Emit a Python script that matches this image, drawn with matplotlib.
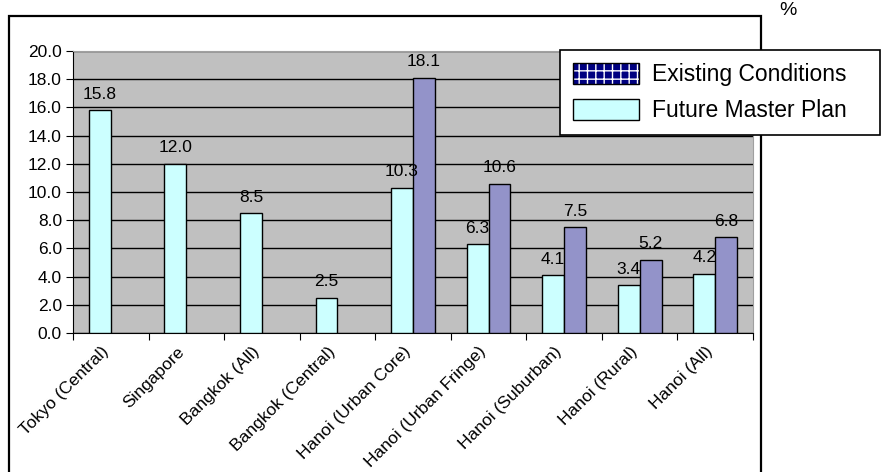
import numpy as np
import matplotlib.pyplot as plt
from matplotlib.patches import Patch, Rectangle
from matplotlib.transforms import ScaledTranslation

plt.rcParams['font.family'] = ['Liberation Sans', 'DejaVu Sans']

# 各地点
cities = ['Tokyo (Central)', 'Singapore', 'Bangkok (All)', 'Bangkok (Central)',
          'Hanoi (Urban Core)', 'Hanoi (Urban Fringe)', 'Hanoi (Suburban)',
          'Hanoi (Rural)', 'Hanoi (All)']
# 将来計画値 / 現況値 (%)
future_plan = [15.8, 12.0, 8.5, 2.5, 10.3, 6.3, 4.1, 3.4, 4.2]
existing = [None, None, None, None, 18.1, 10.6, 7.5, 5.2, 6.8]

future_color = '#CCFFFF'
existing_color = '#9393C9'

fig = plt.figure(figsize=(8.82, 4.72), dpi=100)
ax = fig.add_axes([0.0828, 0.2945, 0.7709, 0.5975])
ax.set_facecolor('#C0C0C0')

x = np.arange(len(cities))
w = 0.29

ax.bar(x - w / 2, future_plan, w, color=future_color, edgecolor='black', linewidth=1, zorder=3)
ex_idx = [i for i, v in enumerate(existing) if v is not None]
ex_val = [existing[i] for i in ex_idx]
ax.bar(np.array(ex_idx) + w / 2, ex_val, w, color=existing_color, edgecolor='black', linewidth=1, zorder=3)

# 数値ラベル
for i, v in enumerate(future_plan):
    ax.text(i - w / 2, v + 0.6, '%.1f' % v, ha='center', va='bottom', fontsize=12.5)
for i, v in zip(ex_idx, ex_val):
    ax.text(i + w / 2, v + 0.6, '%.1f' % v, ha='center', va='bottom', fontsize=12.5)

ax.set_xlim(-0.5, len(cities) - 0.5)
ax.set_ylim(0, 20)
ax.set_yticks(np.arange(0, 20.1, 2))
ax.set_yticklabels(['%.1f' % t for t in np.arange(0, 20.1, 2)], fontsize=12.5)
ax.yaxis.grid(True, color='black', linewidth=1)
ax.set_axisbelow(True)

# 目盛りは区切り位置、ラベルは中央
ax.set_xticks(np.arange(-0.5, len(cities), 1))
ax.set_xticklabels([])
ax.set_xticks(x, minor=True)
ax.set_xticklabels(cities, minor=True, rotation=45, ha='right', rotation_mode='anchor', fontsize=12.5)
ax.tick_params(axis='x', which='minor', length=0, pad=8)
ax.tick_params(axis='x', which='major', direction='out', length=5)
ax.tick_params(axis='y', direction='out', length=5, pad=3)
shift = ScaledTranslation(-10 / 100, 0, fig.dpi_scale_trans)
for lbl in ax.get_xticklabels(minor=True):
    lbl.set_transform(lbl.get_transform() + shift)

for s in ['top', 'right']:
    ax.spines[s].set_color('#A0A0A0')
for s in ['left', 'bottom']:
    ax.spines[s].set_color('black')

# 外枠
fig.patches.append(Rectangle((0.0102, -0.02), 0.8526, 0.986, transform=fig.transFigure,
                             fill=False, edgecolor='black', linewidth=1.6))

fig.text(0.893, 0.978, '%', ha='center', va='center', fontsize=14)

h_exist = (Patch(facecolor='#000080', edgecolor='white', hatch='++', linewidth=0),
           Patch(facecolor='none', edgecolor='black', linewidth=1))
h_future = Patch(facecolor=future_color, edgecolor='black', linewidth=1)
leg = fig.legend([h_exist, h_future], ['Existing Conditions', 'Future Master Plan'],
                 loc='upper left', bbox_to_anchor=(0.635, 0.70, 0.363, 0.194),
                 mode='expand', borderaxespad=0,
                 fontsize=16.5, handlelength=2.9, handleheight=1.05, handletextpad=0.55,
                 labelspacing=0.55, borderpad=0.55, fancybox=False, framealpha=1)
leg.get_frame().set_edgecolor('black')
leg.get_frame().set_linewidth(1.2)

fig.savefig('out.png', dpi=100)
